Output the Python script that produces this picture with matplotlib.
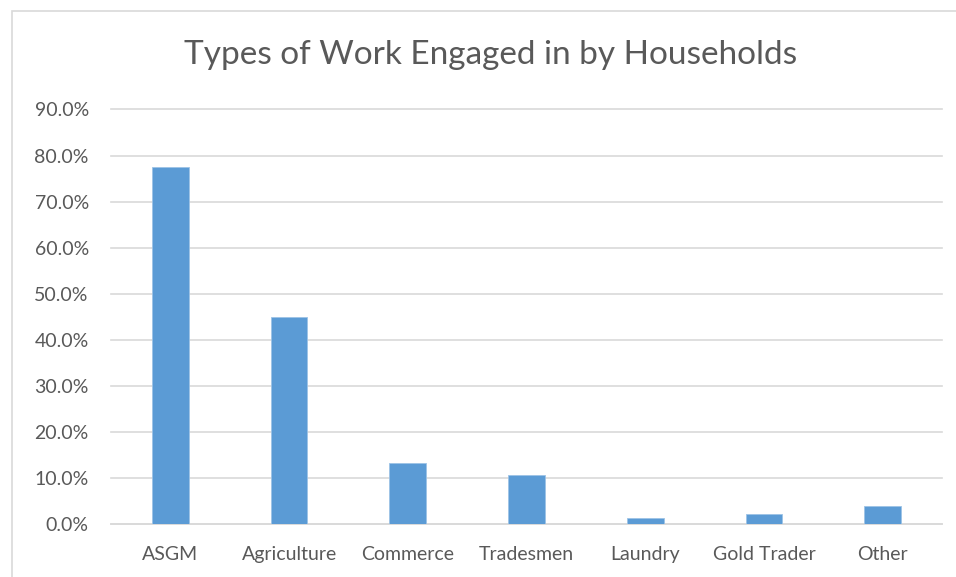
import matplotlib
matplotlib.use("Agg")
import matplotlib.pyplot as plt
from matplotlib.patches import Rectangle
from matplotlib.ticker import FuncFormatter

categories = ["ASGM", "Agriculture", "Commerce", "Tradesmen", "Laundry", "Gold Trader", "Other"]
values = [77.5, 45.0, 13.2, 10.7, 1.4, 2.2, 4.0]
yticks = [0, 10, 20, 30, 40, 50, 60, 70, 80, 90]

plt.rcParams['font.family'] = ['Lato', 'DejaVu Sans']

fig = plt.figure(figsize=(9.56, 5.77), dpi=100)
fig.patches.append(Rectangle((12/956, -0.1), 1.2, 1 - 11/577 + 0.1, transform=fig.transFigure,
                             fill=False, edgecolor="#d9d9d9", linewidth=1.2))
ax = fig.add_axes([111/956, 1 - 524/577, (942 - 111)/956, (524 - 109.5)/577])
x = list(range(len(categories)))
ax.bar(x, values, width=0.31, color="#5b9bd5", edgecolor="#9dc3e6", linewidth=0.6, zorder=3)
ax.set_xlim(-0.5, len(categories) - 0.5)
ax.set_ylim(0, 90)
ax.set_yticks(yticks)
ax.yaxis.set_major_formatter(FuncFormatter(lambda v, p: f"{v:.1f}%"))
ax.set_xticks(x)
ax.set_xticklabels(categories)
ax.grid(axis="y", color="#d9d9d9", linewidth=1.2, zorder=0)
for gl in ax.get_ygridlines():
    gl.set_clip_on(False)
for s in ["top", "right", "left"]:
    ax.spines[s].set_visible(False)
ax.spines["bottom"].set_color("#d9d9d9")
ax.spines["bottom"].set_linewidth(1.2)
ax.tick_params(axis="both", length=0, labelsize=14, colors="#595959")
ax.tick_params(axis="y", pad=16)
ax.tick_params(axis="x", pad=16)
fig.text(491/956, 1 - 55/577, "Types of Work Engaged in by Households", ha="center", va="center",
         fontsize=24, color="#595959", fontweight="normal")
fig.savefig("out.png", dpi=100)
